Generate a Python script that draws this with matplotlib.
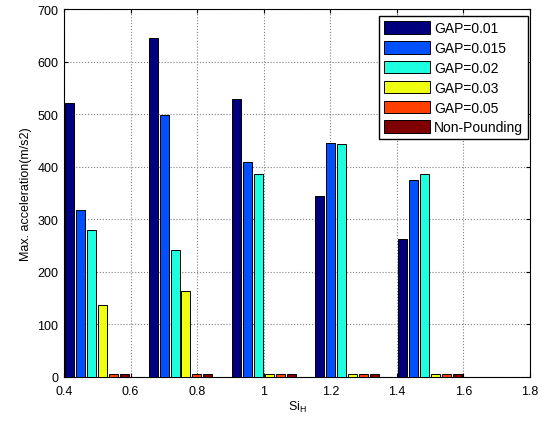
import numpy as np
import matplotlib
matplotlib.use('Agg')
import matplotlib.pyplot as plt

plt.rcParams['font.family'] = ['Liberation Sans', 'DejaVu Sans']

# 数据
si_h = [0.5, 0.75, 1.0, 1.25, 1.5]
labels = ['GAP=0.01', 'GAP=0.015', 'GAP=0.02', 'GAP=0.03', 'GAP=0.05', 'Non-Pounding']
gap_001 = [522, 645, 528, 344, 262]
gap_0015 = [317, 498, 409, 446, 375]
gap_002 = [279, 242, 386, 444, 387]
gap_003 = [137, 163, 6, 6, 6]
gap_005 = [6, 6, 6, 6, 6]
non_pounding = [6, 6, 6, 6, 6]
colors = ['#00007f', '#0050ff', '#1effdf', '#eeff10', '#ff4000', '#7f0000']

series = [gap_001, gap_0015, gap_002, gap_003, gap_005, non_pounding]

fig = plt.figure(figsize=(5.54, 4.27), dpi=100)
ax = fig.add_axes([64/554, 1-378/427, 466/554, 368/427])

pitch = 0.033
width = 0.027
for i, vals in enumerate(series):
    x = np.array(si_h) + (i - 2.5) * pitch
    ax.bar(x, vals, width=width, color=colors[i], edgecolor='black', linewidth=0.7,
           label=labels[i], zorder=3)

ax.set_xlim(0.4, 1.8)
ax.set_ylim(0, 700)
ax.set_xticks([0.4, 0.6, 0.8, 1.0, 1.2, 1.4, 1.6, 1.8])
ax.set_xticklabels(['0.4', '0.6', '0.8', '1', '1.2', '1.4', '1.6', '1.8'])
ax.set_yticks(range(0, 701, 100))
ax.tick_params(direction='in', top=True, right=True, labelsize=9, length=3)
ax.tick_params(axis='x', pad=6)
ax.tick_params(axis='y', pad=4)
ax.grid(True, linestyle=':', color='#808080', linewidth=0.8, zorder=0)
ax.set_axisbelow(True)

ax.set_xlabel('Si$_\\mathregular{H}$', fontsize=9, labelpad=1)
ax.set_ylabel('Max. acceleration(m/s2)', fontsize=9, labelpad=4)

leg = ax.legend(loc='upper right', fontsize=10, fancybox=False, framealpha=1,
                edgecolor='black', handlelength=3.3, handleheight=1.0,
                handletextpad=0.3, labelspacing=0.42, borderpad=0.35,
                borderaxespad=0, bbox_to_anchor=(0.996, 0.98))
leg.get_frame().set_linewidth(1.0)

fig.savefig('out.png', dpi=100)
